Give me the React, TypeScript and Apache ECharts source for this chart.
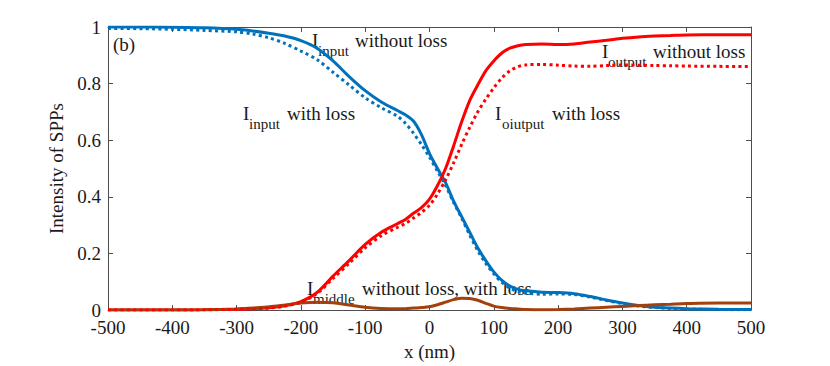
import React, { useEffect, useRef } from "react";
import * as echarts from "echarts";

// x positions (nm)
const xs = [-500, -450, -400, -350, -300, -275, -250, -225, -200, -175, -150, -125, -100, -75, -50,
  -37.5, -25, -12.5, 0, 12.5, 25, 37.5, 50, 62.5, 75, 87.5, 100, 112.5, 125, 137.5, 150,
  175, 200, 225, 250, 275, 300, 325, 350, 375, 400, 450, 500];

const inputNoLoss = [1.0, 1.0, 0.999, 0.997, 0.992, 0.986, 0.978, 0.968, 0.952, 0.925, 0.88, 0.825, 0.775, 0.735, 0.705,
  0.69, 0.668, 0.62, 0.553, 0.5, 0.45, 0.385, 0.33, 0.275, 0.22, 0.175, 0.135, 0.105, 0.085, 0.073, 0.068,
  0.063, 0.062, 0.058, 0.048, 0.036, 0.025, 0.016, 0.01, 0.007, 0.005, 0.003, 0.002];
const inputLoss = [0.995, 0.994, 0.992, 0.988, 0.983, 0.975, 0.962, 0.942, 0.915, 0.885, 0.84, 0.795, 0.75, 0.715, 0.685,
  0.66, 0.625, 0.585, 0.54, 0.49, 0.44, 0.38, 0.325, 0.265, 0.21, 0.165, 0.128, 0.098, 0.078, 0.066, 0.06,
  0.056, 0.057, 0.055, 0.046, 0.034, 0.023, 0.014, 0.009, 0.006, 0.004, 0.002, 0.001];
const outputNoLoss = [0, 0, 0, 0.001, 0.003, 0.005, 0.008, 0.015, 0.03, 0.062, 0.12, 0.175, 0.232, 0.275, 0.305,
  0.32, 0.342, 0.362, 0.392, 0.44, 0.5, 0.58, 0.665, 0.74, 0.795, 0.845, 0.88, 0.908, 0.925, 0.934, 0.938,
  0.94, 0.938, 0.94, 0.947, 0.953, 0.96, 0.965, 0.968, 0.97, 0.972, 0.973, 0.973];
const outputLoss = [0, 0, 0, 0.001, 0.003, 0.005, 0.007, 0.014, 0.028, 0.058, 0.112, 0.165, 0.22, 0.263, 0.292,
  0.306, 0.325, 0.345, 0.37, 0.41, 0.46, 0.52, 0.585, 0.645, 0.7, 0.745, 0.785, 0.82, 0.845, 0.86, 0.866,
  0.868, 0.865, 0.862, 0.861, 0.864, 0.866, 0.865, 0.864, 0.863, 0.862, 0.861, 0.86];
const middle = [0, 0, 0, 0.001, 0.004, 0.007, 0.012, 0.018, 0.025, 0.028, 0.026, 0.018, 0.01, 0.006, 0.005,
  0.005, 0.007, 0.009, 0.012, 0.019, 0.028, 0.037, 0.042, 0.041, 0.035, 0.024, 0.014, 0.009, 0.006, 0.004, 0.002,
  0.001, 0.002, 0.004, 0.007, 0.01, 0.013, 0.016, 0.019, 0.021, 0.023, 0.025, 0.025];

const xTicks = [-500, -400, -300, -200, -100, 0, 100, 200, 300, 400, 500];
const yTicks = [0, 0.2, 0.4, 0.6, 0.8, 1];

const FONT = "'Liberation Serif', 'Times New Roman', serif";
const TXT = "#1a1a1a";
const AX = "#4d4d4d";

const pair = (ys: number[]) => xs.map((x, i) => [x, ys[i]]);

function label(iX: number, y: number, sub: string, subX: number, rest: string, restX: number) {
  return [
    { type: "text", x: iX, y, style: { text: "I", font: `19px ${FONT}`, fill: TXT, verticalAlign: "middle" } },
    { type: "text", x: subX, y: y + 11, style: { text: sub, font: `15px ${FONT}`, fill: TXT, verticalAlign: "middle" } },
    { type: "text", x: restX, y, style: { text: rest, font: `19px ${FONT}`, fill: TXT, verticalAlign: "middle" } },
  ];
}

export default function App() {
  const ref = useRef<HTMLDivElement>(null);
  useEffect(() => {
    if (!ref.current) return;
    const chart = echarts.init(ref.current, null, { renderer: "svg" });
    const axisCommon = {
      type: "value",
      axisLine: { show: true, onZero: false, lineStyle: { color: AX, width: 1 } },
      axisTick: { show: true, inside: true, length: 5, lineStyle: { color: AX } },
      splitLine: { show: false },
    };
    const line = (name: string, ys: number[], color: string, dotted: boolean) => ({
      type: "line",
      name,
      data: pair(ys),
      smooth: 0.3,
      showSymbol: false,
      symbol: "none",
      lineStyle: { color, width: 3, type: dotted ? [3, 3.3] : "solid", cap: "butt" },
      z: 2,
    });
    chart.setOption({
      animation: false,
      backgroundColor: "#ffffff",
      grid: { left: 108, width: 643, top: 27, height: 288, containLabel: false },
      xAxis: [
        {
          ...axisCommon,
          min: xTicks[0],
          max: xTicks[xTicks.length - 1],
          interval: 100,
          name: "x (nm)",
          nameLocation: "middle",
          nameGap: 28,
          nameTextStyle: { fontFamily: FONT, fontSize: 19, color: TXT },
          axisLabel: { margin: 8, fontFamily: FONT, fontSize: 19, color: TXT },
        },
        {
          ...axisCommon,
          position: "top",
          min: xTicks[0],
          max: xTicks[xTicks.length - 1],
          interval: 100,
          axisLabel: { show: false },
        },
      ],
      yAxis: [
        {
          ...axisCommon,
          min: yTicks[0],
          max: yTicks[yTicks.length - 1],
          interval: 0.2,
          name: "Intensity of SPPs",
          nameLocation: "middle",
          nameGap: 28,
          nameTextStyle: { fontFamily: FONT, fontSize: 19, color: TXT },
          axisLabel: { margin: 7, fontFamily: FONT, fontSize: 19, color: TXT },
        },
        {
          ...axisCommon,
          position: "right",
          min: yTicks[0],
          max: yTicks[yTicks.length - 1],
          interval: 0.2,
          axisLabel: { show: false },
        },
      ],
      series: [
        line("Iinput without loss", inputNoLoss, "#0072BD", false),
        line("Iinput with loss", inputLoss, "#0072BD", true),
        line("Ioutput without loss", outputNoLoss, "#FF0000", false),
        line("Imiddle", middle, "#A3400C", false),
        line("Ioutput with loss", outputLoss, "#FF0000", true),
      ],
      graphic: [
        { type: "text", x: 113, y: 44, style: { text: "(b)", font: `19px ${FONT}`, fill: TXT, verticalAlign: "middle" } },
        ...label(312, 40, "input", 318, "without loss", 355),
        ...label(243, 113, "input", 249, "with loss", 287),
        ...label(495, 113, "oiutput", 502, "with loss", 552),
        ...label(602, 51, "output", 608, "without loss", 653),
        ...label(307, 288, "middle", 313, "without loss, with loss", 362),
      ],
    });
    return () => chart.dispose();
  }, []);
  return <div ref={ref} style={{ position: "absolute", left: 0, top: 0, width: 830, height: 366 }} />;
}
